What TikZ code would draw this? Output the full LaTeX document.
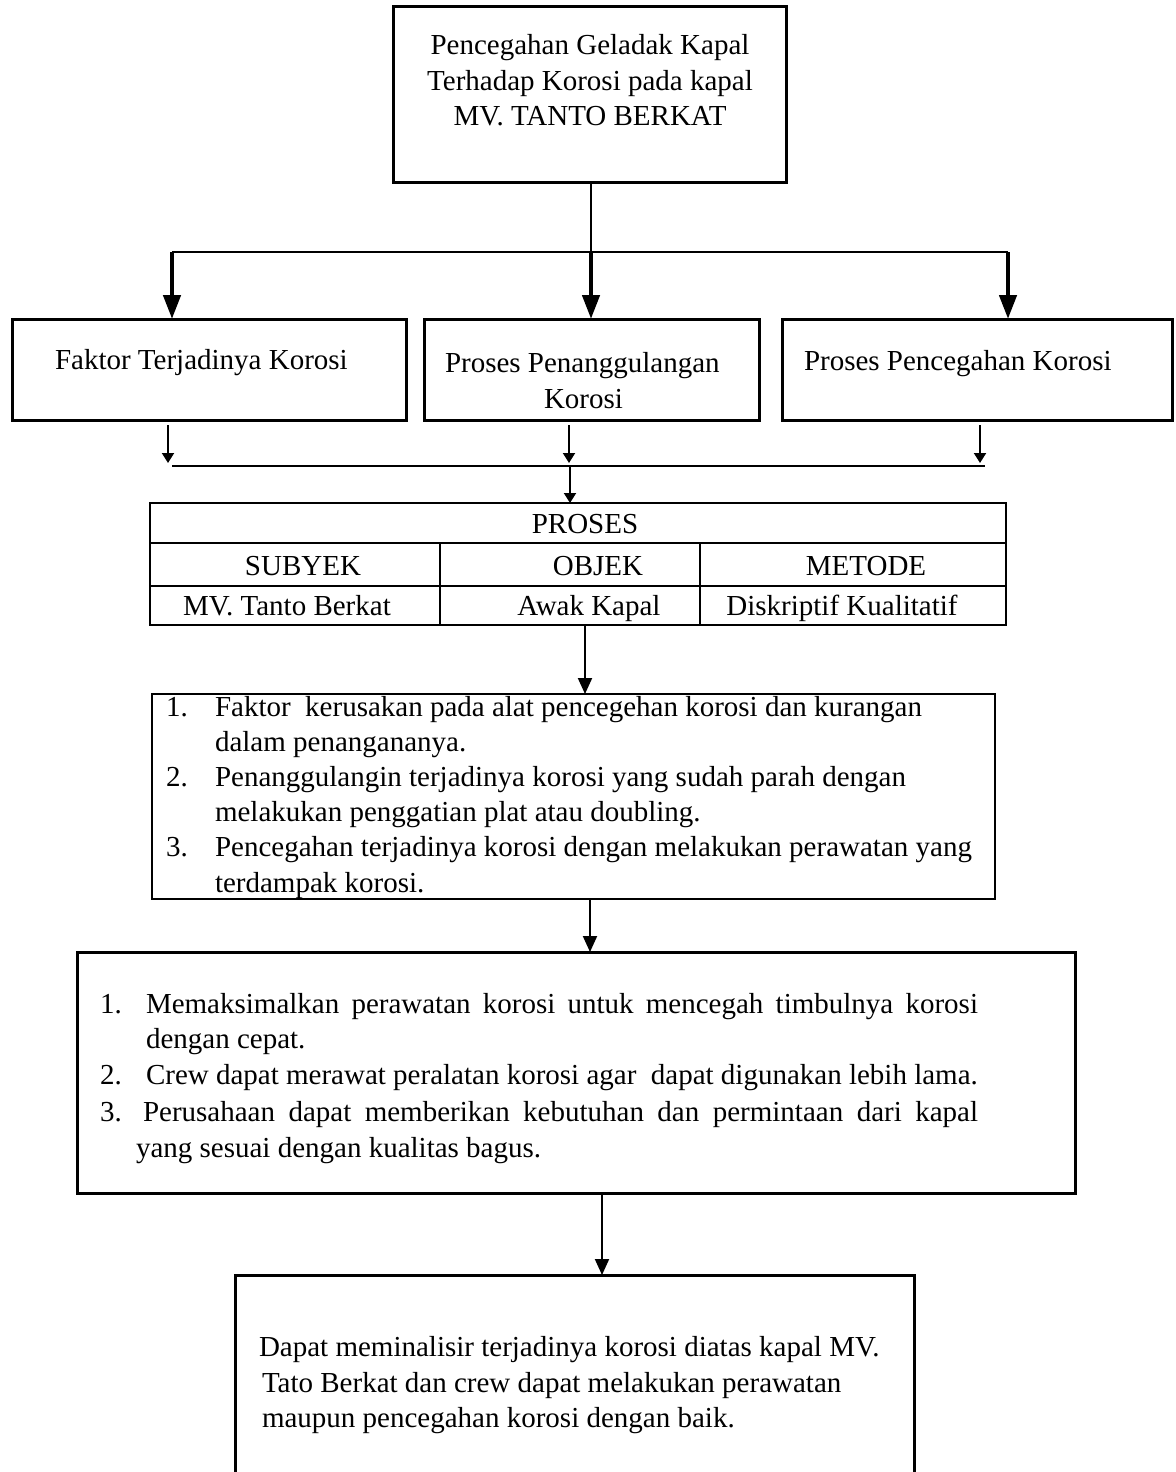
\documentclass[tikz,border=0pt]{standalone}
\usepackage{fontspec}
\setmainfont{Liberation Serif}
\usetikzlibrary{arrows.meta}
\begin{document}
\begin{tikzpicture}[x=1pt,y=-1pt,
  box/.style={draw, line width=3pt, inner sep=0pt, outer sep=0pt},
  tx/.style={inner sep=0pt, outer sep=0pt, font=\fontsize{29}{35}\selectfont},
  conn/.style={line width=1.5pt},
  bigarrow/.style={line width=4.5pt, -{Triangle[width=17pt,length=24pt]}},
  smallarrow/.style={line width=2pt, -{Triangle[width=12pt,length=10pt]}},
  midarrow/.style={line width=2pt, -{Triangle[width=14pt,length=16pt]}}]
\clip (0,0) rectangle (1175,1472);
\fill[white] (0,0) rectangle (1175,1472);

% boxes
\node[box, minimum width=393pt, minimum height=175pt] (top) at (589.5,94.5) {};
\node[box, minimum width=394pt, minimum height=101pt] (b1) at (209,369.5) {};
\node[box, minimum width=335pt, minimum height=101pt] (b2) at (591.5,369.5) {};
\node[box, minimum width=390pt, minimum height=101pt] (b3) at (977,369.5) {};
\node[box, line width=2.5pt, minimum width=856pt, minimum height=122pt] (tab) at (578,564) {};
\node[box, line width=2.5pt, minimum width=843pt, minimum height=205pt] (l1) at (573.5,796.5) {};
\node[box, minimum width=998pt, minimum height=241pt] (l2) at (576,1072.5) {};
\node[box, minimum width=679pt, minimum height=225pt] (fin) at (574.5,1387.5) {};

% table grid
\draw[line width=1.5pt] (150,543) -- (1006,543);
\draw[line width=1.5pt] (150,586) -- (1006,586);
\draw[line width=1.5pt] (440,543) -- (440,625);
\draw[line width=1.5pt] (700,543) -- (700,625);

% texts: top
\node[tx, anchor=base] (t1) at (590,55) {Pencegahan Geladak Kapal};
\node[tx, anchor=base] (t2) at (590,90) {Terhadap Korosi pada kapal};
\node[tx, anchor=base] (t3) at (590,125) {MV. TANTO BERKAT};
% row boxes
\node[tx, anchor=base west] (f1) at (55,369) {Faktor Terjadinya Korosi};
\node[tx, anchor=base west] (p1) at (445,372) {Proses Penanggulangan};
\node[tx, anchor=base west] (p2) at (544,408) {Korosi};
\node[tx, anchor=base west] (c1t) at (804,370) {Proses Pencegahan Korosi};
% table
\node[tx, anchor=base] (tp) at (585,533) {PROSES};
\node[tx, anchor=base] (ts) at (303,575) {SUBYEK};
\node[tx, anchor=base] (to) at (598,575) {OBJEK};
\node[tx, anchor=base] (tm) at (866,575) {METODE};
\node[tx, anchor=base] (vs) at (287,615) {MV. Tanto Berkat};
\node[tx, anchor=base] (vo) at (589,615) {Awak Kapal};
\node[tx, anchor=base] (vm) at (842,615) {Diskriptif Kualitatif};
% list 1
\node[tx, anchor=base west] (n11) at (166,716) {1.};
\node[tx, anchor=base west] (a11) at (215,716) {Faktor\ \ kerusakan pada alat pencegehan korosi dan kurangan};
\node[tx, anchor=base west] (a12) at (215,751) {dalam penangananya.};
\node[tx, anchor=base west] (n12) at (166,786) {2.};
\node[tx, anchor=base west] (a13) at (215,786) {Penanggulangin terjadinya korosi yang sudah parah dengan};
\node[tx, anchor=base west] (a14) at (215,821) {melakukan penggatian plat atau doubling.};
\node[tx, anchor=base west] (n13) at (166,856) {3.};
\node[tx, anchor=base west] (a15) at (215,856) {Pencegahan terjadinya korosi dengan melakukan perawatan yang};
\node[tx, anchor=base west] (a16) at (215,892) {terdampak korosi.};
% list 2
\node[tx, anchor=base west] (n21) at (100,1013) {1.};
\node[tx, anchor=base west] (b21) at (146,1013) {\makebox[832pt][s]{Memaksimalkan perawatan korosi untuk mencegah timbulnya korosi}};
\node[tx, anchor=base west] (b22) at (146,1048) {dengan cepat.};
\node[tx, anchor=base west] (n22) at (100,1084) {2.};
\node[tx, anchor=base west] (b23) at (146,1084) {Crew dapat merawat peralatan korosi agar\ \ dapat digunakan lebih lama.};
\node[tx, anchor=base west] (n23) at (100,1121) {3.};
\node[tx, anchor=base west] (b24) at (143,1121) {\makebox[835pt][s]{Perusahaan dapat memberikan kebutuhan dan permintaan dari kapal}};
\node[tx, anchor=base west] (b25) at (136,1157) {yang sesuai dengan kualitas bagus.};
% final
\node[tx, anchor=base west] (e1) at (259,1356) {Dapat meminalisir terjadinya korosi diatas kapal MV.};
\node[tx, anchor=base west] (e2) at (262,1392) {Tato Berkat dan crew dapat melakukan perawatan};
\node[tx, anchor=base west] (e3) at (262,1427) {maupun pencegahan korosi dengan baik.};

% connectors
\coordinate (jt) at (591,252);
\coordinate (jl) at (172,252);
\coordinate (jr) at (1008,252);
\draw[conn] (top.south -| jt) -- (jt);
\draw[conn] (jl) -- (jr);
\draw[bigarrow] (jl) -- (jl |- b1.north);
\draw[bigarrow] (jt) -- (jt |- b2.north);
\draw[bigarrow] (jr) -- (jr |- b3.north);

\coordinate (s1) at (168,463);
\coordinate (s2) at (569,463);
\coordinate (s3) at (980,463);
\draw[smallarrow, shorten <=5pt] (b1.south -| s1) -- (s1);
\draw[smallarrow, shorten <=5pt] (b2.south -| s2) -- (s2);
\draw[smallarrow, shorten <=5pt] (b3.south -| s3) -- (s3);
\coordinate (ml) at (172,466);
\coordinate (mr) at (985,466);
\draw[conn] (ml) -- (mr);
\coordinate (mc) at (570,466);
\draw[smallarrow] (mc) -- (mc |- tab.north);

\coordinate (k1) at (585,660);
\coordinate (k2) at (590,920);
\coordinate (k3) at (602,1230);
\draw[midarrow] (tab.south -| k1) -- (l1.north -| k1);
\draw[midarrow] (l1.south -| k2) -- (l2.north -| k2);
\draw[midarrow] (l2.south -| k3) -- (fin.north -| k3);
\end{tikzpicture}
\end{document}
